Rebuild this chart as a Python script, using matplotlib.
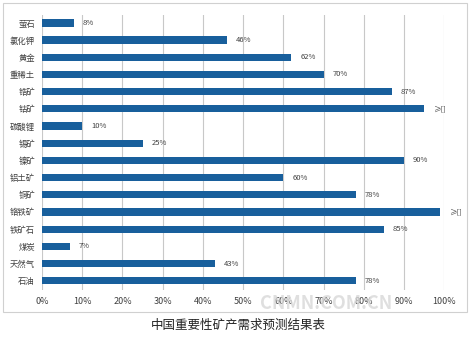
import matplotlib.pyplot as plt
from matplotlib.patches import Rectangle

plt.rcParams['font.family'] = ['Noto Sans CJK SC', 'DejaVu Sans']

minerals = ['萤石', '氯化钾', '黄金', '重稀土', '锆矿', '钴矿', '碳酸锂', '锡矿', '镍矿',
            '铝土矿', '铜矿', '铬铁矿', '铁矿石', '煤炭', '天然气', '石油']
demand = [8, 46, 62, 70, 87, 95, 10, 25, 90, 60, 78, 99, 85, 7, 43, 78]
labels = ['8%', '46%', '62%', '70%', '87%', '≥[]', '10%', '25%', '90%',
          '60%', '78%', '≥[]', '85%', '7%', '43%', '78%']
xticks = [0, 10, 20, 30, 40, 50, 60, 70, 80, 90, 100]

fig = plt.figure(figsize=(4.72, 3.37), dpi=100)
ax = fig.add_axes([0.089, 0.139, 0.852, 0.816])

y = list(range(len(minerals)))
ax.barh(y, demand, height=0.42, color='#185f9c', zorder=3)
for yi, v, t in zip(y, demand, labels):
    ax.text(v + 2.2, yi, t, va='center', ha='left', fontsize=5.5, color='#404040')

ax.set_xlim(0, 100)
ax.set_ylim(len(minerals) - 0.45, -0.45)
ax.set_yticks(y)
ax.set_yticklabels(minerals, fontsize=6, color='#404040')
ax.set_xticks(xticks)
ax.set_xticklabels([f'{t}%' for t in xticks], fontsize=6.5, color='#404040')
ax.tick_params(length=0, pad=5)
ax.grid(axis='x', color='#c8c8c8', linewidth=0.8, zorder=0)
for s in ax.spines.values():
    s.set_visible(False)

# frame around the chart area
fig.patches.append(Rectangle((0.006, 0.074), 0.983, 0.918, transform=fig.transFigure,
                             fill=False, edgecolor='#d0d0d0', linewidth=0.8))

fig.text(0.69, 0.1, 'CNMN.COM.CN', ha='center', va='center', fontsize=13,
         fontweight='bold', color='#d8d8d8', alpha=0.8)
fig.text(0.505, 0.035, '中国重要性矿产需求预测结果表', ha='center', va='center',
         fontsize=9, color='#222222')

fig.savefig('out.png', dpi=100)
